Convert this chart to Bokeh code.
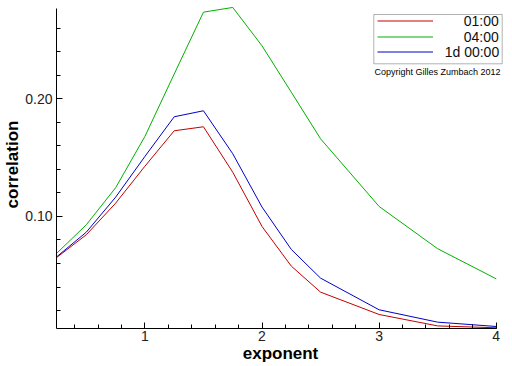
from bokeh.plotting import figure
from bokeh.models import (Range1d, SingleIntervalTicker, NumeralTickFormatter,
                          Legend, LegendItem, Label, BoxAnnotation)
from bokeh.embed import file_html
from bokeh.resources import INLINE

exponent = [0.25, 0.5, 0.75, 1.0, 1.25, 1.5, 1.75, 2.0, 2.25, 2.5, 3.0, 3.5, 4.0]
corr_0100 = [0.0654, 0.0845, 0.1113, 0.1427, 0.1728, 0.1762, 0.1376, 0.0915,
             0.0578, 0.0357, 0.0167, 0.0070, 0.0054]
corr_0400 = [0.0690, 0.0930, 0.1244, 0.1680, 0.2210, 0.2736, 0.2776, 0.2450,
             0.2056, 0.1660, 0.1085, 0.0726, 0.0470]
corr_1d = [0.0660, 0.0867, 0.1164, 0.1510, 0.1847, 0.1898, 0.1533, 0.1080,
           0.0720, 0.0476, 0.0207, 0.0102, 0.0065]
series_labels = ["01:00", "04:00", "1d 00:00"]
series_colors = ["#c00000", "#00b000", "#0000c8"]
copyright_text = "Copyright Gilles Zumbach 2012"

FONT = "Liberation Sans"
X_START, X_END = 0.245, 4.0707
Y_START, Y_END = 0.0048, 0.2835

p = figure(width=512, height=366, output_backend="svg", toolbar_location=None,
           x_range=Range1d(X_START, X_END), y_range=Range1d(Y_START, Y_END),
           min_border_left=56, min_border_right=8, min_border_top=0,
           min_border_bottom=38, background_fill_color="white",
           border_fill_color="white", outline_line_color=None)
p.xgrid.visible = False
p.ygrid.visible = False

renderers = []
for vals, col in zip([corr_0100, corr_0400, corr_1d], series_colors):
    r = p.line(exponent, vals, line_color=col, line_width=1)
    renderers.append(r)

p.xaxis.ticker = SingleIntervalTicker(interval=1, num_minor_ticks=5)
p.yaxis.ticker = SingleIntervalTicker(interval=0.1, num_minor_ticks=5)
p.yaxis.formatter = NumeralTickFormatter(format="0.00")
p.xaxis.bounds = (X_START, 4.0)
p.yaxis.bounds = (Y_START, 0.2765)
p.xaxis.axis_label = "exponent"
p.yaxis.axis_label = "correlation"

for ax in [p.xaxis, p.yaxis]:
    ax.axis_line_color = "black"
    ax.major_tick_line_color = "black"
    ax.minor_tick_line_color = "black"
    ax.major_tick_in = 6
    ax.major_tick_out = 0
    ax.minor_tick_in = 4
    ax.minor_tick_out = 0
    ax.major_label_text_font = FONT
    ax.major_label_text_font_size = "14px"
    ax.major_label_text_color = "#222222"
    ax.axis_label_text_font = FONT
    ax.axis_label_text_font_size = "17px"
    ax.axis_label_text_font_style = "bold"
    ax.axis_label_text_color = "black"
    ax.axis_label_standoff = 0
p.xaxis.major_label_standoff = 2
p.yaxis.major_label_standoff = 4

# legend frame (screen units relative to the plot frame)
p.add_layout(BoxAnnotation(left=317.3, right=445.7, top=314, bottom=264.7,
                           left_units="screen", right_units="screen",
                           top_units="screen", bottom_units="screen",
                           fill_color="white", fill_alpha=1.0,
                           line_color="black", line_width=1))

# one legend per row so that the labels end flush right
row_bottoms = [299.2, 283.2, 268.2]
row_standoffs = [31.3, 31.3, 11.8]
for lab, r, yb, so in zip(series_labels, renderers, row_bottoms, row_standoffs):
    lg = Legend(items=[LegendItem(label=lab, renderers=[r])],
                location=(320.7, yb), margin=0, padding=0, spacing=0,
                glyph_width=56, glyph_height=15, label_height=15,
                label_width=10, label_standoff=int(round(so)),
                label_text_font=FONT, label_text_font_size="14px",
                label_text_color="#111111",
                border_line_color=None, background_fill_alpha=0.0)
    p.add_layout(lg)

p.add_layout(Label(x=444, y=256.5, x_units="screen", y_units="screen",
                   text=copyright_text, text_align="right",
                   text_baseline="middle", text_font=FONT,
                   text_font_size="9px", text_color="black"))

open("out.html", "w").write(file_html(p, INLINE))
